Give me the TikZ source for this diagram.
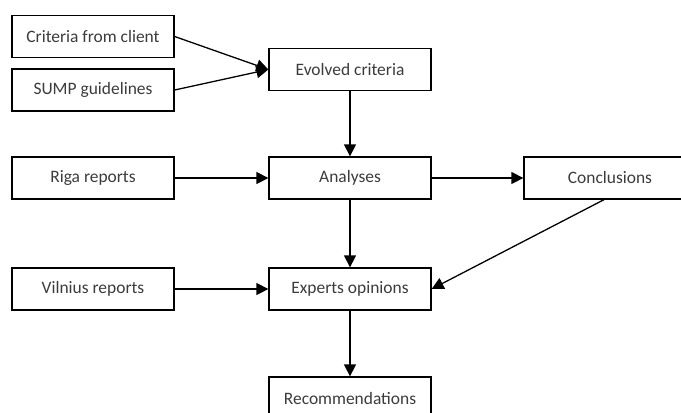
\documentclass[tikz,border=0pt]{standalone}
\usepackage{fontspec}
\setmainfont{Carlito}
\usepackage{tikz}
\usetikzlibrary{arrows.meta,positioning}
\definecolor{boxtext}{RGB}{60,60,60}
\tikzset{
  box/.style ={draw, line width=1.3pt, fill=white, align=center, text=boxtext, font=\fontsize{17.5}{20}\selectfont,
               minimum width=162bp, minimum height=42bp, inner sep=2pt},
  flow/.style={-{Triangle[length=12bp,width=12bp]}, line width=1.3pt}
}
\begin{document}
\begin{tikzpicture}[x=1bp, y=-1bp]
  \useasboundingbox (0,0) rectangle (681,412);
  \clip (0,0) rectangle (681,412);
  \node[box] (crit) at (93,36.5)  {Criteria from client};
  \node[box] (sump) at (93,90)    {SUMP guidelines};
  \node[box] (evol) at (350,69.5) {Evolved criteria};
  \node[box] (riga) at (93,178)   {Riga reports};
  \node[box] (anal) at (350,178)  {Analyses};
  \node[box, minimum width=172bp] (conc) at (610,178)  {Conclusions};
  \node[box] (viln) at (93,289)   {Vilnius reports};
  \node[box] (expt) at (350,289)  {Experts opinions};
  \node[box] (reco) at (350,398)  {Recommendations};
  \draw[flow] (crit.east) -- (evol.west);
  \draw[flow] (sump.east) -- (evol.west);
  \draw[flow] (evol) -- (anal);
  \draw[flow] (riga) -- (anal);
  \draw[flow] (anal) -- (conc);
  \draw[flow] (anal) -- (expt);
  \draw[flow] (viln) -- (expt);
  \draw[flow] ([xshift=-6bp]conc.south) -- (expt.east);
  \draw[flow] (expt) -- (reco);
\end{tikzpicture}
\end{document}
